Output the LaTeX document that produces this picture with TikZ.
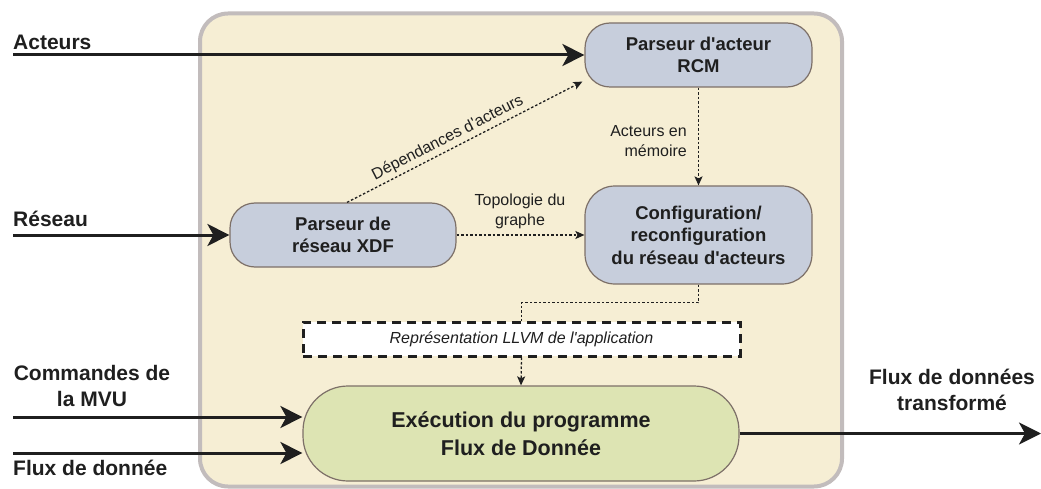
\documentclass[tikz,border=0pt]{standalone}
\usepackage{fontspec}
\setmainfont{Liberation Sans}
\usetikzlibrary{arrows.meta,calc}
\newcommand\apos{\textquotesingle}
\definecolor{outerfill}{HTML}{F6EED4}
\definecolor{outerline}{HTML}{C2BCBC}
\definecolor{bluefill}{HTML}{C7CEDC}
\definecolor{nodeline}{HTML}{7D7068}
\definecolor{greenfill}{HTML}{DDE4B3}
\definecolor{ink}{HTML}{1F1F1F}
\tikzset{
  procbox/.style={draw=nodeline, line width=1.2pt, fill=bluefill, rounded corners=25pt,
    align=center, text=ink, inner sep=0pt, font=\fontsize{18.5}{22.5}\selectfont\bfseries},
  bigarrow/.style={draw=ink, line width=3pt, -{Stealth[length=22pt,width=22pt,inset=6pt]}},
  dotarrow/.style={draw=ink, line width=1.3pt, dash pattern=on 2.5pt off 2pt,
    -{Stealth[length=9pt,width=8pt,inset=2pt]}},
  dotline/.style={draw=ink, line width=1.3pt, dash pattern=on 2.5pt off 2pt},
  outlabel/.style={text=ink, inner sep=0pt, font=\fontsize{21}{26}\selectfont\bfseries},
  smalllabel/.style={text=ink, inner sep=0pt, font=\fontsize{16}{20}\selectfont},
}
\begin{document}
\begin{tikzpicture}[x=1pt,y=-1pt]
\useasboundingbox (0,0) rectangle (1041,489);
% outer container
\draw[draw=outerline, fill=outerfill, line width=4pt, rounded corners=28pt] (200,13.5) rectangle (842,486.5);

% process nodes
\node[procbox, minimum width=227pt, minimum height=64pt] (rcm) at (698.5,55) {Parseur d\apos acteur\\RCM};
\node[procbox, minimum width=226pt, minimum height=64pt] (xdf) at (343,235) {Parseur de\\réseau XDF};
\node[procbox, minimum width=227pt, minimum height=98pt, rounded corners=30pt] (cfg) at (698.5,235) {Configuration/\\reconfiguration\\du réseau d\apos acteurs};
\node[draw=ink, fill=white, line width=3pt, dash pattern=on 9pt off 6pt, minimum width=437pt, minimum height=34pt, inner sep=0pt,
  text=ink, font=\fontsize{16}{20}\selectfont\itshape] (llvm) at (521.5,339) {Représentation LLVM de l\apos application};
\node[draw=nodeline, line width=1.2pt, fill=greenfill, rounded corners=45pt, minimum width=436pt, minimum height=95pt,
  inner sep=0pt, align=center, text=ink, font=\fontsize{21.5}{28}\selectfont\bfseries] (exec) at (521,433.5) {Exécution du programme\\Flux de Donnée};

% outside labels
\node[outlabel, anchor=base west] (lacteurs) at (13,50) {Acteurs};
\node[outlabel, anchor=base west] (lreseau) at (13,226) {Réseau};
\node[outlabel, align=center, anchor=north] (lcmd) at (92,365) {Commandes de\\la MVU};
\node[outlabel, anchor=base west] (lflux) at (13,475) {Flux de donnée};
\node[outlabel, align=center, anchor=north] (lout) at (952,369) {Flux de données\\transformé};

% input coordinates
\coordinate (inA) at (13,55);
\coordinate (inR) at (13,235);
\coordinate (inC) at (13,417);
\coordinate (inF) at (13,453);
\coordinate (outE) at (1041,433.5);

% big arrows
\draw[bigarrow] (inA) -- (rcm.west);
\draw[bigarrow] (inR) -- (xdf.west);
\draw[bigarrow] (inC) -- (inC -| exec.west);
\draw[bigarrow] (inF) -- (inF -| exec.west);
\draw[bigarrow] (exec.east) -- (outE);

% dotted connectors
\draw[dotarrow] ([xshift=4pt]xdf.north) -- node[pos=0.45, above=3pt, sloped, smalllabel] (ldep) {Dépendances d\apos acteurs} ([xshift=-2pt,yshift=6pt]rcm.south west);
\draw[dotarrow] (xdf.east) -- (cfg.west);
\node[smalllabel, align=center] (ltopo) at (520,211) {Topologie du\\graphe};
\draw[dotarrow] (rcm.south) -- (cfg.north);
\node[smalllabel, align=right, anchor=east] (lmem) at (687,141) {Acteurs en\\mémoire};
\draw[dotline] (cfg.south) -- ++(0,18) -| (llvm.north);
\draw[dotarrow] (llvm.south) -- (exec.north);
\end{tikzpicture}
\end{document}
